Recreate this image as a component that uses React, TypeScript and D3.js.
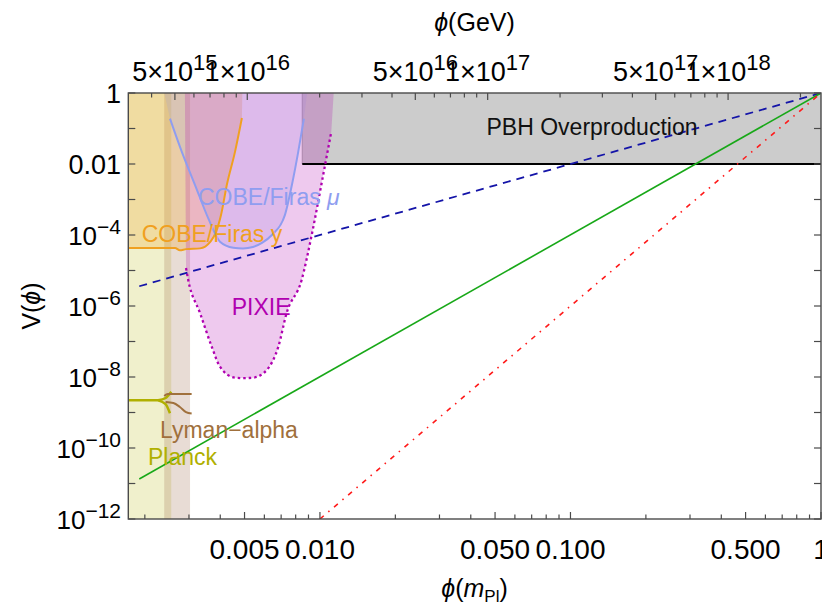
import React from 'react';
import * as d3 from 'd3';

// ---------- data ----------
const phiDomain = [0.001718, 1];
const vDomain = [1e-12, 1];
const gevDomain = [3.2e15, 2.435e18];

const bottomTickValues = [0.005, 0.01, 0.05, 0.1, 0.5, 1];
const bottomTickLabels = ['0.005', '0.010', '0.050', '0.100', '0.500', '1'];
const topTickValues = [5e15, 1e16, 5e16, 1e17, 5e17, 1e18];
const topTickMantissa = ['5', '1', '5', '1', '5', '1'];
const topTickExp = ['15', '16', '16', '17', '17', '18'];
const yDecades = [0, -1, -2, -3, -4, -5, -6, -7, -8, -9, -10, -11, -12];
const yLabelExps = [0, -2, -4, -6, -8, -10, -12];

// shaded bands
const planckBand = [0.001718, 0.00255];
const lymanBand = [0.00239, 0.00303];
const pbhPhi = [0.0085, 1];
const pbhV = [0.01, 1];

// COBE/Firas y boundary
const cobeYPhi = [0.001718, 0.00264, 0.00276, 0.00292, 0.00332, 0.00364, 0.00385, 0.00403, 0.00425, 0.00458, 0.00488];
const cobeYV = [4.3e-5, 4.3e-5, 3.7e-5, 4.0e-5, 4.2e-5, 6.3e-5, 1.22e-4, 3.7e-4, 2.6e-3, 2.2e-2, 0.198];
const cobeYTop = [0.001718, 0.0049];

// COBE/Firas mu boundary
const muPhi = [0.00252, 0.00281, 0.00317, 0.00358, 0.00399, 0.00451, 0.00493, 0.0054, 0.00587, 0.00643, 0.00725, 0.00773, 0.00819, 0.00863];
const muV = [0.19, 2.2e-2, 2.6e-3, 3.0e-4, 6.5e-5, 4.4e-5, 4.2e-5, 4.6e-5, 6.0e-5, 1.0e-4, 3.7e-4, 2.6e-3, 2.2e-2, 0.19];
const muTop = [0.00239, 0.0089];

// PIXIE boundary
const pixiePhi = [0.00292, 0.00298, 0.00332, 0.0037, 0.00399, 0.00458, 0.00497, 0.00542, 0.00613, 0.00682, 0.00736, 0.00845, 0.00927, 0.0103, 0.0111];
const pixieV = [1.17e-5, 5.4e-6, 6.4e-7, 7.1e-8, 1.95e-8, 9.6e-9, 9.3e-9, 9.6e-9, 1.57e-8, 7.1e-8, 6.3e-7, 5.4e-6, 1.0e-4, 4.9e-3, 0.081];
const pixieTop = [0.00289, 0.01135];

// Planck marker
const planckMainPhi = [0.001718, 0.00226];
const planckMainV = [2.2e-9, 2.2e-9];
const planckUpPhi = [0.00226, 0.00242, 0.00255];
const planckUpV = [2.2e-9, 2.56e-9, 3.86e-9];
const planckDownPhi = [0.00226, 0.00242, 0.00252];
const planckDownV = [2.2e-9, 1.73e-9, 9.5e-10];

// Lyman-alpha marker
const lymanUpPhi = [0.00239, 0.00247, 0.003075];
const lymanUpV = [2.92e-9, 3.32e-9, 3.32e-9];
const lymanDownPhi = [0.00242, 0.0026, 0.00276, 0.00292, 0.003075];
const lymanDownV = [1.98e-9, 1.85e-9, 1.43e-9, 1.03e-9, 9.4e-10];

// potentials (straight lines in log-log)
const quadPhi = [0.0019, 1];
const quadV = [3.6e-6, 1];
const quartPhi = [0.0019, 1];
const quartV = [1.34e-11, 1];
const sextPhi = [0.01, 1];
const sextV = [1e-12, 1];

// ---------- layout ----------
const W = 822, H = 606;
const L = 128.3, R = 821, T = 93, B = 519;
const FONT = 'Liberation Sans, Arial, sans-serif';

const xs = d3.scaleLog().domain(phiDomain).range([L, R]);
const ys = d3.scaleLog().domain(vDomain).range([B, T]);
const xg = d3.scaleLog().domain(gevDomain).range([L, R]);

function curve(phi: number[], v: number[], smooth = true): string {
  const line = d3.line<number>().x((_, i) => xs(phi[i])).y((_, i) => ys(v[i]));
  if (smooth) line.curve(d3.curveMonotoneX);
  return line(phi) || '';
}
function fillAbove(phi: number[], v: number[], top: number[]): string {
  const c = curve(phi, v);
  return `M${xs(top[0])},${ys(1)}L${c.slice(1)}L${xs(top[1])},${ys(1)}Z`;
}

export default function App() {
  const near = (a: number, b: number) => Math.abs(Math.log10(a) - Math.log10(b)) < 1e-6;
  const bTicks = xs.ticks().filter(t => t >= phiDomain[0] && t <= 1);
  const tTicks = xg.ticks().filter(t => t >= gevDomain[0] && t <= gevDomain[1] * 1.0001);
  const frame = '#4a4a4a';

  return (
    <svg width={W} height={H} style={{ position: 'absolute', left: 0, top: 0, background: '#fff' }} fontFamily={FONT}>
      <defs>
        <clipPath id="plot"><rect x={L} y={T} width={R - L} height={B - T} /></clipPath>
      </defs>
      <rect x={0} y={0} width={W} height={H} fill="#fff" />
      <g clipPath="url(#plot)">
        {/* PBH overproduction */}
        <rect x={xs(pbhPhi[0])} y={ys(pbhV[1])} width={xs(pbhPhi[1]) - xs(pbhPhi[0])} height={ys(pbhV[0]) - ys(pbhV[1])} fill="#cccccc" />
        <line x1={xs(pbhPhi[0])} x2={xs(pbhPhi[0])} y1={ys(pbhV[1])} y2={ys(pbhV[0])} stroke="#aaa" strokeWidth={1} />
        {/* Planck */}
        <rect x={xs(planckBand[0])} y={T} width={xs(planckBand[1]) - xs(planckBand[0])} height={B - T} fill="#b5b500" fillOpacity={0.2} />
        {/* Lyman-alpha */}
        <rect x={xs(lymanBand[0])} y={T} width={xs(lymanBand[1]) - xs(lymanBand[0])} height={B - T} fill="#a06e50" fillOpacity={0.24} />
        {/* COBE y */}
        <path d={fillAbove(cobeYPhi, cobeYV, cobeYTop)} fill="#f0a020" fillOpacity={0.25} />
        {/* COBE mu */}
        <path d={fillAbove(muPhi, muV, muTop)} fill="#96a0ec" fillOpacity={0.2} />
        {/* PIXIE */}
        <path d={fillAbove(pixiePhi, pixieV, pixieTop)} fill="#b000b0" fillOpacity={0.21} />
        {/* boundaries */}
        <line x1={xs(pbhPhi[0])} x2={xs(pbhPhi[1])} y1={ys(pbhV[0])} y2={ys(pbhV[0])} stroke="#000" strokeWidth={2} />
        <path d={curve(cobeYPhi, cobeYV)} fill="none" stroke="#f0a020" strokeWidth={2} />
        <path d={curve(muPhi, muV)} fill="none" stroke="#8f9df0" strokeWidth={2} />
        <path d={curve(pixiePhi, pixieV)} fill="none" stroke="#b000b0" strokeWidth={2.3} strokeDasharray="2.5,3" />
        <path d={curve(planckMainPhi, planckMainV, false)} fill="none" stroke="#b0b000" strokeWidth={2.5} />
        <path d={curve(planckUpPhi, planckUpV)} fill="none" stroke="#b0b000" strokeWidth={2.5} />
        <path d={curve(planckDownPhi, planckDownV)} fill="none" stroke="#b0b000" strokeWidth={2.5} />
        <path d={curve(lymanUpPhi, lymanUpV)} fill="none" stroke="#a0703c" strokeWidth={2} />
        <path d={curve(lymanDownPhi, lymanDownV)} fill="none" stroke="#a0703c" strokeWidth={2} />
        {/* potentials */}
        <path d={curve(quadPhi, quadV, false)} fill="none" stroke="#1414a8" strokeWidth={1.8} strokeDasharray="8,6" />
        <path d={curve(quartPhi, quartV, false)} fill="none" stroke="#18a818" strokeWidth={1.6} />
        <path d={curve(sextPhi, sextV, false)} fill="none" stroke="#ff1a1a" strokeWidth={1.6} strokeDasharray="5,6,1.5,6" />
      </g>

      {/* region labels */}
      <text x={592} y={135} fontSize={23} textAnchor="middle" fill="#111">PBH Overproduction</text>
      <text x={198} y={205} fontSize={23} fill="#8f9df0">COBE/Firas <tspan fontStyle="italic">μ</tspan></text>
      <text x={141.7} y={241.7} fontSize={23} fill="#f0a020">COBE/Firas y</text>
      <text x={231.7} y={315} fontSize={23} fill="#b000b0">PIXIE</text>
      <text x={160} y={438} fontSize={23} fill="#a0703c">Lyman−alpha</text>
      <text x={148} y={465} fontSize={23} fill="#b0b000">Planck</text>

      {/* frame */}
      <rect x={L} y={T} width={R - L} height={B - T} fill="none" stroke={frame} strokeWidth={1.4} />

      {/* y ticks */}
      {yDecades.map(e => {
        const yy = ys(Math.pow(10, e));
        return (
          <g key={'y' + e}>
            <line x1={L} x2={L + 7} y1={yy} y2={yy} stroke={frame} strokeWidth={1.2} />
            <line x1={R} x2={R - 7} y1={yy} y2={yy} stroke={frame} strokeWidth={1.2} />
          </g>
        );
      })}
      {yLabelExps.map(e => {
        const yy = ys(Math.pow(10, e)) + 9.5;
        if (e === 0) return <text key={'yl' + e} x={121} y={yy} fontSize={27} textAnchor="end">1</text>;
        if (e === -2) return <text key={'yl' + e} x={121} y={yy} fontSize={27} textAnchor="end">0.01</text>;
        return (
          <text key={'yl' + e} x={121} y={yy} fontSize={26} textAnchor="end">
            10<tspan dy={-11} fontSize={21}>{'−' + String(-e)}</tspan>
          </text>
        );
      })}

      {/* bottom ticks */}
      {bTicks.map((t, i) => {
        const major = bottomTickValues.some(v => near(v, t));
        const xx = xs(t);
        return <line key={'b' + i} x1={xx} x2={xx} y1={B} y2={B - (major ? 7 : 4.5)} stroke={frame} strokeWidth={1.2} />;
      })}
      {bottomTickValues.map((v, i) => (
        <text key={'bl' + i} x={xs(v)} y={559} fontSize={28} textAnchor="middle">{bottomTickLabels[i]}</text>
      ))}

      {/* top ticks */}
      {tTicks.map((t, i) => {
        const major = topTickValues.some(v => near(v, t));
        const xx = xg(t);
        return <line key={'t' + i} x1={xx} x2={xx} y1={T} y2={T + (major ? 7 : 4.5)} stroke={frame} strokeWidth={1.2} />;
      })}
      {topTickValues.map((v, i) => (
        <text key={'tl' + i} x={xg(v)} y={81} fontSize={27} textAnchor="middle">
          {topTickMantissa[i] + '×10'}<tspan dy={-11} fontSize={22}>{topTickExp[i]}</tspan>
        </text>
      ))}

      {/* axis titles */}
      <text x={474.5} y={31} fontSize={25} textAnchor="middle">
        <tspan fontStyle="italic">ϕ</tspan>(GeV)
      </text>
      <text x={474.5} y={597} fontSize={25} textAnchor="middle">
        <tspan fontStyle="italic">ϕ</tspan>(<tspan fontStyle="italic">m</tspan><tspan fontSize={17} dy={5}>Pl</tspan><tspan dy={-5}>)</tspan>
      </text>
      <text transform={`translate(40,${(T + B) / 2}) rotate(-90)`} fontSize={25} textAnchor="middle">
        V(<tspan fontStyle="italic">ϕ</tspan>)
      </text>
    </svg>
  );
}
